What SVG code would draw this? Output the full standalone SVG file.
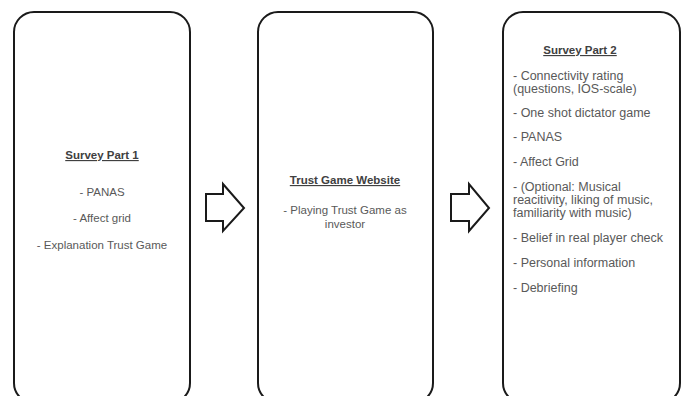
<svg xmlns="http://www.w3.org/2000/svg" width="683" height="396" viewBox="0 0 683 396">
<style>
.box{fill:#fff;stroke:#1a1a1a;stroke-width:2}
.arr{fill:#fff;stroke:#1a1a1a;stroke-width:2;stroke-linejoin:miter}
text{font-family:"Liberation Sans",Arial,sans-serif;font-size:11.5px;fill:#595959}
.h{font-weight:bold;fill:#404040;text-decoration:underline}
.c{text-anchor:middle}
.r text{font-size:12.5px}
.r text.h{font-size:11.5px}
</style>
<rect width="683" height="396" fill="#fff"/>
<g id="connectors">
<path class="arr" d="M206,194 H223 V184 L244,208 L223,231 V221 H206 Z"/>
<path class="arr" d="M451,194 H469 V184 L489,208 L469,231 V221 H451 Z"/>
</g>
<g id="survey1">
<rect class="box" x="14" y="12" width="176" height="391" rx="20"/>
<text class="h c" x="102" y="159">Survey Part 1</text>
<text class="c" x="102" y="196">- PANAS</text>
<text class="c" x="102" y="222">- Affect grid</text>
<text class="c" x="102" y="249">- Explanation Trust Game</text>
</g>
<g id="website">
<rect class="box" x="258" y="12" width="175" height="391" rx="20"/>
<text class="h c" x="345" y="184">Trust Game Website</text>
<text class="c" x="345" y="214">- Playing Trust Game as</text>
<text class="c" x="345" y="228">investor</text>
</g>
<g id="survey2" class="r">
<rect class="box" x="503" y="12" width="177" height="391" rx="20"/>
<text class="h c" x="580" y="54">Survey Part 2</text>
<text x="513" y="80">- Connectivity rating</text>
<text x="513" y="93">(questions, IOS-scale)</text>
<text x="513" y="117">- One shot dictator game</text>
<text x="513" y="141">- PANAS</text>
<text x="513" y="166">- Affect Grid</text>
<text x="513" y="191">- (Optional: Musical</text>
<text x="513" y="204">reacitivity, liking of music,</text>
<text x="513" y="217">familiarity with music)</text>
<text x="513" y="242">- Belief  in real player check</text>
<text x="513" y="267">- Personal information</text>
<text x="513" y="292">- Debriefing</text>
</g>
</svg>
